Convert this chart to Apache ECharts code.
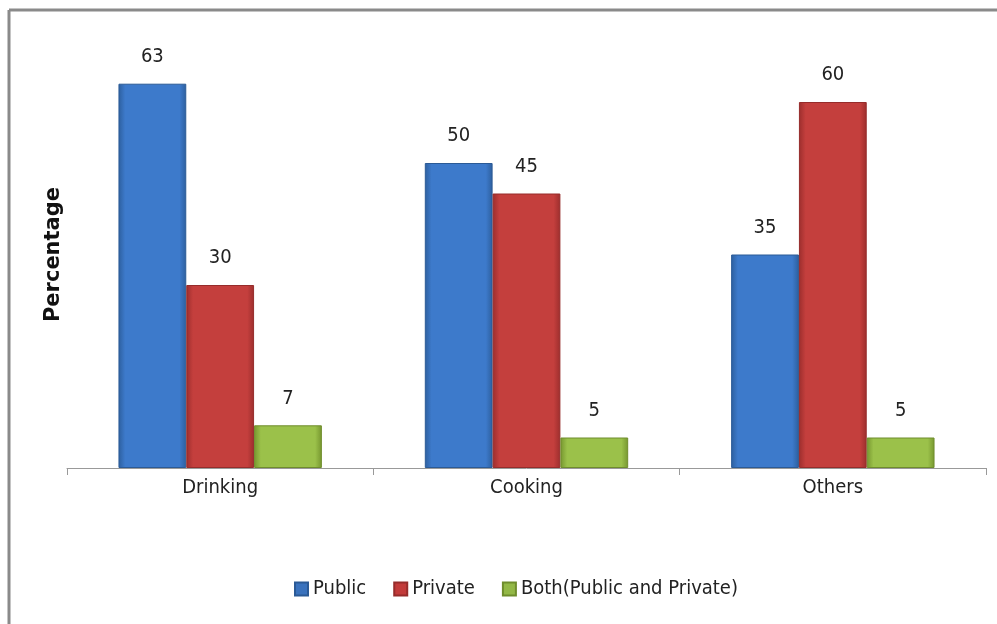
<!DOCTYPE html>
<html>
<head>
<meta charset="utf-8">
<script src="https://cdn.jsdelivr.net/npm/echarts@6/dist/echarts.min.js"></script>
<style>html,body{margin:0;padding:0;background:#fff;}#c{width:997px;height:624px;}</style>
</head>
<body>
<div id="c"></div>
<script>
var categories = ['Drinking', 'Cooking', 'Others'];
var publicVals = [63, 50, 35];
var privateVals = [30, 45, 60];
var bothVals = [7, 5, 5];
var seriesNames = ['Public', 'Private', 'Both(Public and Private)'];

function grad(edge, mid) {
  return new echarts.graphic.LinearGradient(0, 0, 1, 0, [
    {offset: 0, color: edge}, {offset: 0.1, color: mid},
    {offset: 0.9, color: mid}, {offset: 1, color: edge}
  ]);
}
var font = '"DejaVu Sans Condensed", "Liberation Sans Narrow", sans-serif';
function mk(name, data, edge, mid, border) {
  return {
    name: name, type: 'bar', data: data, barGap: '0%', barCategoryGap: '33.6%',
    itemStyle: {color: grad(edge, mid), borderColor: border, borderWidth: 1},
    label: {show: true, position: 'top', distance: 17, fontSize: 20, color: '#222', fontFamily: font}
  };
}
var chart = echarts.init(document.getElementById('c'));
chart.setOption({
  animation: false,
  backgroundColor: '#fff',
  grid: {left: 67, right: 11, top: 41, bottom: 156},
  legend: {
    bottom: 20, left: 289, itemWidth: 13, itemHeight: 13, itemGap: 27,
    textStyle: {fontSize: 20, color: '#222', fontFamily: font},
    data: [
      {name: seriesNames[0], icon: 'rect', itemStyle: {color: '#3a72bd'}},
      {name: seriesNames[1], icon: 'rect', itemStyle: {color: '#c23b3a'}},
      {name: seriesNames[2], icon: 'rect', itemStyle: {color: '#93b846'}}
    ]
  },
  xAxis: {
    type: 'category', data: categories,
    axisLine: {lineStyle: {color: '#999', width: 1}},
    axisTick: {show: true, length: 7, lineStyle: {color: '#999'}},
    axisLabel: {fontSize: 20, color: '#222', margin: 10, fontFamily: font}
  },
  yAxis: {
    type: 'value', min: 0, max: 70, interval: 10,
    name: 'Percentage', nameLocation: 'middle', nameGap: 3,
    nameTextStyle: {fontSize: 21, fontWeight: 'bold', color: '#111', fontFamily: '"DejaVu Sans", sans-serif'},
    axisLine: {show: false}, axisTick: {show: false}, axisLabel: {show: false}, splitLine: {show: false}
  },
  series: [
    mk(seriesNames[0], publicVals, '#2d5f9e', '#3d7acb', '#2b5a96'),
    mk(seriesNames[1], privateVals, '#9c2e2d', '#c43f3d', '#962c2b'),
    mk(seriesNames[2], bothVals, '#76962f', '#9bc14a', '#6f8d2c')
  ],
  graphic: [
    {type: 'line', shape: {x1: 9, y1: 10, x2: 997, y2: 10}, style: {stroke: '#8a8a8a', lineWidth: 3}},
    {type: 'line', shape: {x1: 9, y1: 10, x2: 9, y2: 624}, style: {stroke: '#8a8a8a', lineWidth: 3}}
  ]
});
</script>
</body>
</html>
